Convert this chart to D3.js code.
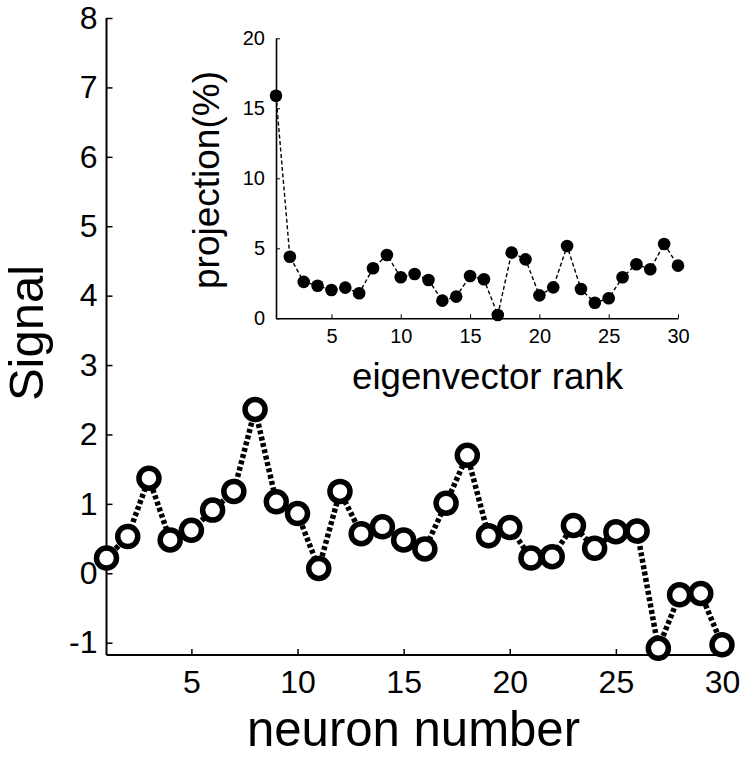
<!DOCTYPE html>
<html><head><meta charset="utf-8">
<script src="https://cdn.jsdelivr.net/npm/d3@7"></script>
<style>body{margin:0;background:#fff}svg{display:block}text{font-family:"Liberation Sans",Arial,sans-serif;fill:#000}</style>
</head><body>
<script>
const neurons = d3.range(1, 31);
const signal = [0.22,0.53,1.37,0.48,0.62,0.91,1.18,2.36,1.03,0.86,0.07,1.18,0.57,0.67,0.48,0.35,1.01,1.70,0.54,0.66,0.22,0.24,0.69,0.36,0.60,0.61,-1.08,-0.31,-0.29,-1.03];
const ranks = d3.range(1, 31);
const projection = [15.9,4.4,2.6,2.33,2.02,2.19,1.79,3.57,4.52,2.93,3.16,2.74,1.26,1.55,3.02,2.79,0.24,4.69,4.21,1.64,2.21,5.16,2.09,1.11,1.43,2.93,3.86,3.5,5.31,3.76];
const mainXTicks = [5,10,15,20,25,30];
const mainYTicks = [-1,0,1,2,3,4,5,6,7,8];
const insetXTicks = [5,10,15,20,25,30];
const insetYTicks = [0,5,10,15,20];

const W = 746, H = 757;
const svg = d3.select("body").append("svg").attr("width", W).attr("height", H);

// main chart
const x = d3.scaleLinear().domain([1,30]).range([106.5, 722]);
const y = d3.scaleLinear().domain([-1,8]).range([642.7, 18]);
const yBottom = 655;

const gx = svg.append("g").attr("transform", `translate(0,${yBottom})`)
  .call(d3.axisBottom(x).tickValues(mainXTicks).tickSizeInner(-6).tickSizeOuter(0).tickPadding(14));
gx.select(".domain").attr("d", `M${x(1)},0H${x(30)+1}`).attr("stroke-width", 2);
gx.selectAll(".tick line").attr("stroke-width", 1.5);
gx.selectAll("text").attr("font-size", 32).attr("dy", "0.71em").attr("y", 15);

const gy = svg.append("g").attr("transform", `translate(${x(1)},0)`)
  .call(d3.axisLeft(y).tickValues(mainYTicks).tickSizeInner(-6).tickSizeOuter(0).tickPadding(10));
gy.select(".domain").attr("d", `M0,${y(8)}V${yBottom}`).attr("stroke-width", 2);
gy.selectAll(".tick line").attr("stroke-width", 1.5);
gy.selectAll("text").attr("font-size", 32).attr("x", -9).text(d => d < 0 ? "-" + Math.abs(d) : d);

svg.append("path").datum(signal)
  .attr("d", d3.line().x((d,i) => x(neurons[i])).y(d => y(d)))
  .attr("fill", "none").attr("stroke", "#000").attr("stroke-width", 5.5)
  .attr("stroke-dasharray", "4,2.5");
svg.selectAll("circle.m").data(signal).join("circle").attr("class","m")
  .attr("cx", (d,i) => x(neurons[i])).attr("cy", d => y(d)).attr("r", 10)
  .attr("fill", "#fff").attr("stroke", "#000").attr("stroke-width", 5.5);

svg.append("text").attr("transform", "translate(43,333) rotate(-90)")
  .attr("text-anchor", "middle").attr("font-size", 49).text("Signal");
svg.append("text").attr("x", 413.5).attr("y", 746).attr("text-anchor", "middle")
  .attr("font-size", 50).attr("textLength", 333).attr("lengthAdjust", "spacingAndGlyphs").text("neuron number");

// inset
const ix = d3.scaleLinear().domain([1,30]).range([276, 678]);
const iy = d3.scaleLinear().domain([0,20]).range([318.3, 38.3]);
const igx = svg.append("g").attr("transform", `translate(0,${iy(0)})`)
  .call(d3.axisBottom(ix).tickValues(insetXTicks).tickSizeInner(-4).tickSizeOuter(0).tickPadding(10));
igx.select(".domain").attr("stroke-width", 1.6);
igx.selectAll("text").attr("font-size", 20).attr("y", 11);
const igy = svg.append("g").attr("transform", `translate(${ix(1)},0)`)
  .call(d3.axisLeft(iy).tickValues(insetYTicks).tickSizeInner(-4).tickSizeOuter(0).tickPadding(10));
igy.select(".domain").attr("stroke-width", 1.6);
igy.selectAll("text").attr("font-size", 20).attr("x", -11);

svg.append("path").datum(projection)
  .attr("d", d3.line().x((d,i) => ix(ranks[i])).y(d => iy(d)))
  .attr("fill", "none").attr("stroke", "#000").attr("stroke-width", 1.4)
  .attr("stroke-dasharray", "4,2.5");
svg.selectAll("circle.i").data(projection).join("circle").attr("class","i")
  .attr("cx", (d,i) => ix(ranks[i])).attr("cy", d => iy(d)).attr("r", 6.3).attr("fill", "#000");

svg.append("text").attr("transform", "translate(219,180) rotate(-90)")
  .attr("text-anchor", "middle").attr("font-size", 37).text("projection(%)");
svg.append("text").attr("x", 487.5).attr("y", 389).attr("text-anchor", "middle")
  .attr("font-size", 37).attr("textLength", 271).attr("lengthAdjust", "spacingAndGlyphs").text("eigenvector rank");
</script>
</body></html>
